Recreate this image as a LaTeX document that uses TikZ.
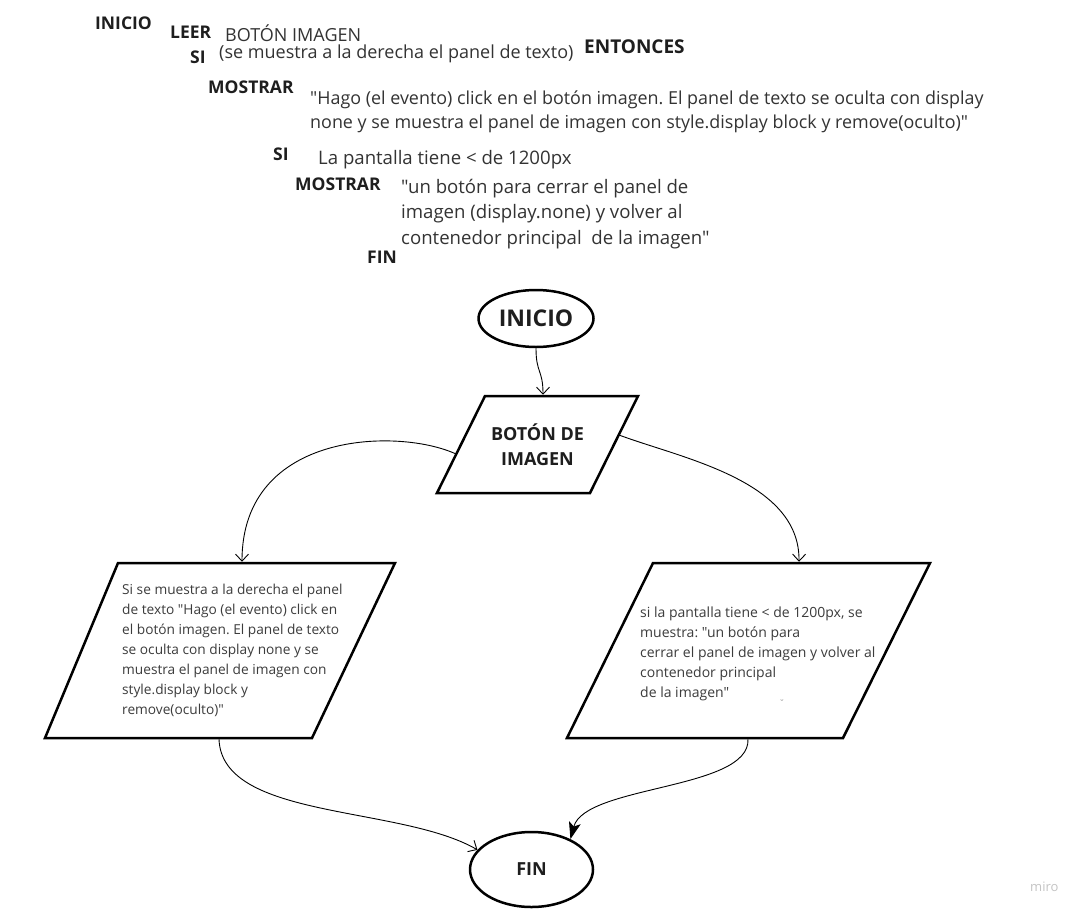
\documentclass[tikz,border=0pt]{standalone}
\usepackage{fontspec}
\setmainfont{Open Sans}[Ligatures=TeXOff]
\usetikzlibrary{arrows.meta,shapes.geometric}
\definecolor{txtgray}{HTML}{333333}
\definecolor{kwblack}{HTML}{1E1E1E}
\definecolor{paratxt}{HTML}{3C3C3C}
\definecolor{mirogray}{HTML}{C4C4C4}
\newcommand\mylines[1]{\begin{tabular}[t]{@{}l@{}}#1\end{tabular}}
\frenchspacing
\begin{document}
\frenchspacing
\begin{tikzpicture}[x=1pt,y=-1pt,
  kw/.style={anchor=base west,inner sep=0pt,text=kwblack,font=\bfseries\fontsize{17.5}{20}\selectfont},
  tx/.style={anchor=base west,inner sep=0pt,text=txtgray,font=\fontsize{18}{24}\selectfont},
  txb/.style={tx,font=\fontsize{18.6}{25.5}\selectfont},
  ptx/.style={anchor=base west,inner sep=0pt,text=paratxt,font=\fontsize{14}{20}\selectfont},
  term/.style={draw=black,ellipse,line width=2.5pt,inner sep=0pt,text=kwblack},
  pshape/.style={draw=black,line width=2.5pt,line join=miter},
  conn/.style={draw=black,line width=0.9pt},
  openarr/.style={-{Straight Barb[length=7pt,width=13pt]}},
  fillarr/.style={-{Stealth[length=17pt,width=12pt,inset=4pt]}}
]
\path[fill=white] (0,0) rectangle (1089,918);
\useasboundingbox (0,0) rectangle (1089,918);

% ---- pseudocode text ----
\node[kw] (t-inicio) at (95,29) {INICIO};
\node[kw] (t-leer) at (170,38) {LEER};
\node[tx] (t-boton) at (225,41) {BOTÓN IMAGEN};
\node[kw] (t-si1) at (190,63) {SI};
\node[tx] (t-cond1) at (219,58) {(se muestra a la derecha el panel de texto)};
\node[kw,font=\bfseries\fontsize{19}{22}\selectfont] (t-entonces) at (584,53) {ENTONCES};
\node[kw] (t-most1) at (208,93) {MOSTRAR};
\node[tx,font=\fontsize{17.9}{24}\selectfont] (t-msg1) at (310,104) {\mylines{"Hago (el evento) click en el botón imagen. El panel de texto se oculta con display\\none y se muestra el panel de imagen con style.display block y remove(oculto)"}};
\node[kw] (t-si2) at (273,160) {SI};
\node[txb] (t-cond2) at (318,164) {La pantalla tiene < de 1200px};
\node[kw] (t-most2) at (295,190) {MOSTRAR};
\node[txb] (t-msg2) at (401,193) {\mylines{"un botón para cerrar el panel de\\imagen (display.none) y volver al\\contenedor principal\ \ de la imagen"}};
\node[kw] (t-fin) at (367,263) {FIN};

% ---- flowchart ----
\node[term, minimum width=115pt, minimum height=57pt, font=\bfseries\fontsize{23}{26}\selectfont] (inicio) at (536,318.5) {INICIO};

\coordinate (b1) at (485,396);
\coordinate (b2) at (638,396);
\coordinate (b3) at (590,493);
\coordinate (b4) at (437,493);
\draw[pshape] (b1) -- (b2) -- (b3) -- (b4) -- cycle;
\node[align=center, inner sep=0pt, font=\bfseries\fontsize{18}{25}\selectfont, text=kwblack] (boton) at (537.5,444.5) {BOTÓN DE\\IMAGEN};
\coordinate (boton-in) at (543,394.75);
\coordinate (boton-left) at (456,454);
\coordinate (boton-right) at (619,435);

\coordinate (l1) at (118,563);
\coordinate (l2) at (395,563);
\coordinate (l3) at (312,738);
\coordinate (l4) at (45,738);
\draw[pshape] (l1) -- (l2) -- (l3) -- (l4) -- cycle;
\coordinate (left-in) at (242,561.75);
\coordinate (left-out) at (219,739.25);
\node[ptx,font=\fontsize{13.7}{20}\selectfont] (ltext) at (122,594) {\mylines{Si se muestra a la derecha el panel\\de texto "Hago (el evento) click en\\el botón imagen. El panel de texto\\se oculta con display none y se\\muestra el panel de imagen con\\style.display block y\\remove(oculto)"}};

\coordinate (r1) at (653,563);
\coordinate (r2) at (930,563);
\coordinate (r3) at (843,738);
\coordinate (r4) at (567,738);
\draw[pshape] (r1) -- (r2) -- (r3) -- (r4) -- cycle;
\coordinate (right-in) at (799,561.75);
\coordinate (right-out) at (748,739.25);
\node[ptx] (rtext) at (640,617) {\mylines{si la pantalla tiene < de 1200px, se\\muestra: "un botón para\\cerrar el panel de imagen y volver al\\contenedor principal\\de la imagen"}};
\node[inner sep=0pt, text=gray, font=\fontsize{9}{9}\selectfont] (mark) at (782,703) {˘};

\node[term, minimum width=123pt, minimum height=75pt, font=\bfseries\fontsize{18}{22}\selectfont] (fin) at (531.5,869.5) {FIN};

% ---- connectors ----
\draw[conn,openarr] (inicio.south) .. controls +(0,25) and +(0,-25) .. (boton-in);
\draw[conn,openarr] (boton-left) .. controls (400,428) and (242,430) .. (left-in);
\draw[conn,openarr] (boton-right) .. controls (680,458) and (800,480) .. (right-in);
\draw[conn,openarr] (left-out) .. controls (222,820) and (400,805) .. (fin.160);
\draw[conn,fillarr] (right-out) .. controls (750,790) and (585,785) .. (fin.38);

\node[anchor=base west, inner sep=0pt, text=mirogray, font=\fontsize{13}{15}\selectfont] (miro) at (1030,891) {miro};
\end{tikzpicture}
\end{document}
